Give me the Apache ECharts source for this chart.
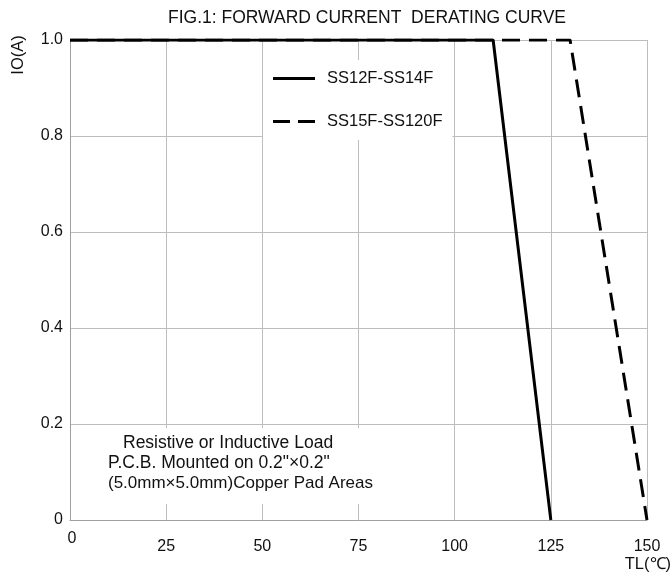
<!DOCTYPE html>
<html><head><meta charset="utf-8">
<script src="https://cdn.jsdelivr.net/npm/echarts@6/dist/echarts.min.js"></script>
<style>html,body{margin:0;padding:0;background:#fff}#c{width:672px;height:581px}</style>
</head><body><div id="c"></div>
<script>
const titleText = 'FIG.1: FORWARD CURRENT  DERATING CURVE';
const seriesNames = ['SS12F-SS14F', 'SS15F-SS120F'];
const tempA = [0, 110, 125];
const currentA = [1.0, 1.0, 0];
const tempB = [0, 130, 150];
const currentB = [1.0, 1.0, 0];
const xTicks = [0, 25, 50, 75, 100, 125, 150];
const yTicks = [0, 0.2, 0.4, 0.6, 0.8, 1.0];
const xName = 'TL(℃)';
const yName = 'IO(A)';
const noteLines = ['Resistive or Inductive Load', 'P.C.B. Mounted on 0.2"×0.2"', '(5.0mm×5.0mm)Copper Pad Areas'];

const FONT = 'Arial, "Liberation Sans", sans-serif';
const chart = echarts.init(document.getElementById('c'));
chart.setOption({
  animation: false,
  backgroundColor: '#fff',
  title: { text: titleText, left: 362, top: 4, textAlign: 'center',
    textStyle: { fontFamily: FONT, fontSize: 17.5, fontWeight: 'normal', color: '#111' } },
  grid: { left: 70, right: 25, top: 40, bottom: 61, containLabel: false },
  legend: {
    orient: 'vertical', left: 263, top: 60, padding: [10, 10, 10, 10],
    backgroundColor: '#fff', itemWidth: 42, itemHeight: 3, itemGap: 26,
    textStyle: { fontFamily: FONT, fontSize: 16.5, color: '#111', padding: [0, 0, 0, 7] },
    data: [
      { name: seriesNames[0], icon: 'rect', itemStyle: { color: '#000' } },
      { name: seriesNames[1], icon: 'path://M0,0h17v3h-17z M25,0h17v3h-17z', itemStyle: { color: '#000' } }
    ]
  },
  xAxis: {
    type: 'value', min: 0, max: 150, interval: 25,
    axisLine: { show: true, lineStyle: { color: '#a0a0a0', width: 1 } },
    axisTick: { show: false },
    splitLine: { show: true, lineStyle: { color: '#bdbdbd', width: 1 } },
    axisLabel: {
      margin: 11, fontFamily: FONT, fontSize: 16, color: '#111',
      formatter: v => xTicks.includes(v) ? (v === 0 ? '{z|0}' : '{n|' + v + '}') : '',
      rich: { z: { fontFamily: FONT, fontSize: 16, color: '#111', padding: [0, 0, 0, 4] },
              n: { fontFamily: FONT, fontSize: 16, color: '#111', padding: [8, 0, 0, 0] } }
    }
  },
  yAxis: {
    type: 'value', min: 0, max: 1.0, interval: 0.2,
    axisLine: { show: true, lineStyle: { color: '#a0a0a0', width: 1 } },
    axisTick: { show: false },
    splitLine: { show: true, lineStyle: { color: '#bdbdbd', width: 1 } },
    axisLabel: { margin: 7, fontFamily: FONT, fontSize: 16, color: '#111',
      formatter: v => { const t = yTicks.find(k => Math.abs(k - v) < 1e-9); return t === undefined ? '' : (t === 0 ? '0' : t.toFixed(1)); } }
  },
  graphic: [
    { type: 'text', x: 18, y: 55, rotation: Math.PI / 2,
      style: { text: yName, font: '16.5px ' + FONT, fill: '#111', align: 'center', verticalAlign: 'middle' } },
    { type: 'text', x: 671, y: 556,
      style: { text: xName, font: '16.5px ' + FONT, fill: '#111', align: 'right', verticalAlign: 'top' } },
    { type: 'rect', shape: { x: 100, y: 428, width: 262, height: 76 }, z: 49,
      style: { fill: '#fff' } },
    { type: 'text', x: 123, y: 443, z: 50,
      style: { text: noteLines[0], font: '17.5px ' + FONT, fill: '#111', align: 'left', verticalAlign: 'middle' } },
    { type: 'text', x: 108, y: 463, z: 50,
      style: { text: noteLines[1], font: '17.5px ' + FONT, fill: '#111', align: 'left', verticalAlign: 'middle' } },
    { type: 'text', x: 108, y: 483, z: 50,
      style: { text: noteLines[2], font: '17px ' + FONT, fill: '#111', align: 'left', verticalAlign: 'middle' } }
  ],
  series: [
    { name: seriesNames[1], type: 'line', symbol: 'none', z: 3,
      data: tempB.map((t, i) => [t, currentB[i]]),
      lineStyle: { color: '#000', width: 3, type: [18, 9] }, itemStyle: { color: '#000' } },
    { name: seriesNames[0], type: 'line', symbol: 'none', z: 4,
      data: tempA.map((t, i) => [t, currentA[i]]),
      lineStyle: { color: '#000', width: 3, type: 'solid' }, itemStyle: { color: '#000' } }
  ]
});
</script></body></html>
